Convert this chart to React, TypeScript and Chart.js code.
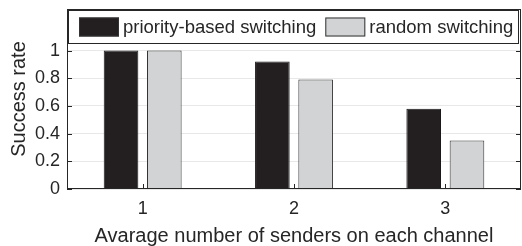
import React, { useEffect, useRef } from "react";
import { Chart, registerables } from "chart.js";

Chart.register(...registerables);

const categories = ["1", "2", "3"];
const priorityValues = [1.0, 0.92, 0.58];
const randomValues = [1.0, 0.79, 0.35];
const seriesNames = ["priority-based switching", "random switching"];
const yTicks = [0, 0.2, 0.4, 0.6, 0.8, 1];
const xTitle = "Avarage number of senders on each channel";
const yTitle = "Success rate";

const FONT = "'Liberation Sans', Arial, Helvetica, sans-serif";
const AXIS = "#262626";
const BLACK = "#231f20";
const GRAY = "#d1d3d4";

const framePlugin = {
  id: "frame",
  afterDraw(chart: any) {
    const { ctx, chartArea: a, scales } = chart;
    const x = scales.x;
    const y = scales.y;
    ctx.save();
    ctx.strokeStyle = AXIS;
    ctx.lineWidth = 1;
    ctx.strokeRect(Math.round(a.left) + 0.5, Math.round(a.top) + 0.5, Math.round(a.right - a.left) - 1, Math.round(a.bottom - a.top) - 1);
    const tl = 5;
    ctx.beginPath();
    for (let i = 0; i < categories.length; i++) {
      const px = Math.round(x.getPixelForValue(i)) + 0.5;
      ctx.moveTo(px, a.bottom);
      ctx.lineTo(px, a.bottom - tl);
      ctx.moveTo(px, a.top);
      ctx.lineTo(px, a.top + tl);
    }
    for (const v of yTicks) {
      const py = Math.round(y.getPixelForValue(v)) + 0.5;
      ctx.moveTo(a.left, py);
      ctx.lineTo(a.left + tl, py);
      ctx.moveTo(a.right, py);
      ctx.lineTo(a.right - tl, py);
    }
    ctx.stroke();

    // legend inside the axes
    const lx = a.left + 1.5, ly = a.top + 1.5, lw = a.right - a.left - 4, lh = 33;
    ctx.fillStyle = "#ffffff";
    ctx.fillRect(lx, ly, lw, lh);
    ctx.strokeStyle = AXIS;
    ctx.strokeRect(lx, ly, lw, lh);
    ctx.font = `18.5px ${FONT}`;
    ctx.textBaseline = "middle";
    const cy = ly + lh / 2;
    const sw = 40, sh = 19;
    let cx = a.left + 12;
    const cols = [BLACK, GRAY];
    for (let i = 0; i < seriesNames.length; i++) {
      ctx.fillStyle = cols[i];
      ctx.fillRect(cx, cy - sh / 2, sw, sh);
      ctx.strokeStyle = "#333333";
      ctx.strokeRect(cx + 0.5, cy - sh / 2 + 0.5, sw - 1, sh - 1);
      ctx.fillStyle = AXIS;
      ctx.textAlign = "left";
      ctx.fillText(seriesNames[i], cx + sw + 4, cy + 1);
      cx += sw + 4 + ctx.measureText(seriesNames[i]).width + 9;
    }
    ctx.restore();
  },
};

export default function App() {
  const ref = useRef<HTMLCanvasElement | null>(null);
  useEffect(() => {
    document.body.style.margin = "0";
    const chart = new Chart(ref.current!, {
      type: "bar",
      data: {
        labels: categories,
        datasets: [
          { label: seriesNames[0], data: priorityValues, backgroundColor: BLACK, borderColor: "#1a1a1a", borderWidth: 1 },
          { label: seriesNames[1], data: randomValues, backgroundColor: GRAY, borderColor: "#333333", borderWidth: 1 },
        ],
      },
      options: {
        animation: false,
        responsive: false,
        maintainAspectRatio: false,
        layout: { padding: { top: 9, right: 1, left: 0, bottom: 0 } },
        datasets: { bar: { categoryPercentage: 0.572, barPercentage: 0.8 } },
        plugins: { legend: { display: false }, tooltip: { enabled: false } },
        scales: {
          x: {
            grid: { display: false, drawTicks: false },
            border: { display: false },
            ticks: { color: AXIS, font: { family: FONT, size: 18 }, padding: 9 },
            title: { display: true, text: xTitle, color: AXIS, font: { family: FONT, size: 20, lineHeight: 1 }, padding: { top: 0, bottom: 0 } },
            afterFit: (s: any) => { s.height = 57; s.paddingLeft = 0; s.paddingRight = 0; },
          },
          y: {
            min: 0,
            max: 1.3,
            afterBuildTicks: (s: any) => { s.ticks = yTicks.map((v) => ({ value: v })); },
            grid: { color: "#e8e8e8", drawTicks: false },
            border: { display: false },
            ticks: { color: AXIS, font: { family: FONT, size: 18 }, padding: 7, callback: (v: any) => String(v) },
            title: { display: true, text: yTitle, color: AXIS, font: { family: FONT, size: 20, lineHeight: 1 }, padding: { top: 9, bottom: 0 } },
            afterFit: (s: any) => { s.width = 67; s.paddingTop = 0; s.paddingBottom = 0; },
          },
        },
      },
      plugins: [framePlugin],
    });
    return () => chart.destroy();
  }, []);
  return <canvas ref={ref} width={522} height={246} style={{ display: "block" }} />;
}
